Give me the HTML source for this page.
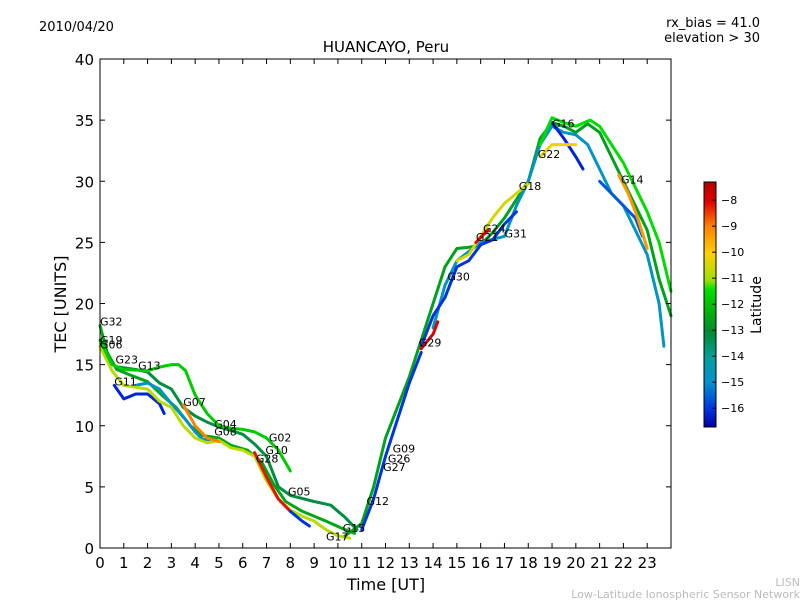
<!DOCTYPE html>
<html><head><meta charset="utf-8"><style>
body{margin:0;background:#fff;}
svg text{font-family:"DejaVu Sans","Liberation Sans",sans-serif;}
</style></head><body>
<svg id="chart" width="800" height="600" xmlns="http://www.w3.org/2000/svg">
<defs>
<linearGradient id="jet" x1="0" y1="1" x2="0" y2="0">
<stop offset="0" stop-color="#0000a0"/><stop offset="0.07" stop-color="#0030e0"/><stop offset="0.18" stop-color="#0090d0"/><stop offset="0.28" stop-color="#00a0a0"/><stop offset="0.39" stop-color="#008a30"/><stop offset="0.5" stop-color="#00c000"/><stop offset="0.56" stop-color="#00e000"/><stop offset="0.6" stop-color="#a0e000"/><stop offset="0.71" stop-color="#ffd000"/><stop offset="0.82" stop-color="#ff8000"/><stop offset="0.92" stop-color="#e00000"/><stop offset="1" stop-color="#b00000"/>
</linearGradient>
</defs>
<text x="39" y="31" font-size="13">2010/04/20</text>
<text x="760" y="27" font-size="13" text-anchor="end">rx_bias = 41.0</text>
<text x="760" y="42" font-size="13" text-anchor="end">elevation &gt; 30</text>
<text x="386" y="52" font-size="15" text-anchor="middle">HUANCAYO, Peru</text>
<g id="marks"></g>
<rect x="100" y="59" width="571" height="489" fill="none" stroke="#000" stroke-width="1"/>
<g id="axes"></g>
<text transform="translate(66,304) rotate(-90)" font-size="16" text-anchor="middle">TEC [UNITS]</text>
<text x="386" y="590" font-size="16" text-anchor="middle">Time [UT]</text>
<rect x="704" y="182" width="12" height="245" fill="url(#jet)" stroke="#000" stroke-width="1"/>
<g id="cbticks"></g>
<text transform="translate(761,305) rotate(-90)" font-size="14" text-anchor="middle">Latitude</text>
<text x="800" y="586" font-size="11" fill="#bbb" text-anchor="end">LISN</text>
<text x="800" y="598" font-size="11" fill="#bbb" text-anchor="end">Low-Latitude Ionospheric Sensor Network</text>
</svg>
<script>
const xTicks = [0,1,2,3,4,5,6,7,8,9,10,11,12,13,14,15,16,17,18,19,20,21,22,23];
const yTicks = [0,5,10,15,20,25,30,35,40];
const cbTicks = [-8,-9,-10,-11,-12,-13,-14,-15,-16];
const trackLats = [-12.5,-13.2,-16.2,-14.8,-10.8,-9.0,-8.2,-16.0,-11.8,-12.6,-14.8,-16.0,-16.2,-15.6,-9.3,-10.2,-10.5,-8.0,-8.1,-16.0,-11.5];
const trackPts = [
 [[0,18.2],[0.3,16],[0.7,14.6],[1.2,14.2],[2,13.6],[2.6,12.5],[3.2,11.5],[3.8,10],[4.3,9.2],[5,9.0],[5.5,8.4],[6.2,8.0],[6.8,7.0],[7.3,5.2],[7.8,3.8],[8.5,3.0],[9.5,2.2],[10.3,1.5],[10.7,1.2]],
 [[0.8,14.8],[1.5,14.6],[2,14.4],[2.5,13.5],[3,13],[3.5,11.5],[4,10.8],[4.5,10.3],[5,9.9],[5.5,9.6],[6,9.3],[6.5,8.5],[7,7.5],[7.5,5],[8,4.3],[9,3.8],[9.7,3.5],[10,3.0],[10.3,2.5],[10.8,1.5]],
 [[0.6,13.3],[1,12.2],[1.5,12.6],[2,12.6],[2.5,11.8],[2.7,11.0]],
 [[1.5,13.3],[2,13.5],[2.5,13.0],[3,11.8],[3.6,10.5],[4.0,9.5],[4.3,8.9],[5,8.8]],
 [[0,16.5],[0.5,14.5],[1,13.3],[2,13],[2.5,12],[3,11.5],[3.5,10],[4,9],[4.5,8.6],[5,8.8],[5.5,8.2],[6,8.0],[6.5,7.5],[7,5.5],[7.5,4],[8,3.1],[8.5,2.6],[9,2.2],[9.5,1.5],[10,1],[10.5,0.8]],
 [[3.5,11.7],[4,10],[4.5,9],[5,8.7]],
 [[6.5,7.8],[7,5.8],[7.5,4.0],[8,3.0]],
 [[8,3.0],[8.5,2.2],[8.8,1.8]],
 [[0,17],[0.5,15],[1,14.6],[2,14.5],[2.5,14.8],[3,15],[3.3,15],[3.6,14.5],[4,12.5],[4.5,11],[5,10],[5.5,9.8],[6,9.7],[6.5,9.5],[7,9.0],[7.5,8],[8,6.3]],
 [[10.3,1],[11,2],[11.5,5],[12,9],[12.5,11.5],[13,14],[13.5,17],[14,20],[14.5,23],[15,24.5],[15.5,24.6],[16,24.8],[16.5,25.8],[17,27],[17.5,28.5],[18,30],[18.5,33.5],[19,34.8],[19.5,34.5],[20,34],[20.5,34.7],[21,34],[21.5,32],[22,30],[22.5,28],[23,26],[23.5,22],[24,19]],
 [[14,18],[14.5,21.5],[15,23.5],[16,25],[17,25.5],[17.5,28],[18,30],[18.5,33],[19,34.5],[19.5,34],[20,33.8],[20.5,33],[21,31],[21.5,29],[22,28],[22.5,26],[23,24],[23.5,20],[23.7,16.5]],
 [[13.5,16.5],[14,19],[14.5,20.5],[15,23],[15.5,23.5],[16,24.8],[16.5,25.2],[17,26.5],[17.5,27.5]],
 [[19,34.8],[19.5,33.5],[20,32],[20.3,31]],
 [[21,30],[21.5,29],[22,28],[22.5,27],[22.8,25.5]],
 [[21.8,30.5],[22.2,29],[22.6,27],[23,24.5]],
 [[18.5,32],[19,33],[19.5,33],[20,33]],
 [[15,23.5],[15.5,24],[16,25.5],[16.5,27],[17,28.2],[17.5,29],[18,29.8]],
 [[13.5,16.3],[14,17.5],[14.2,18.5]],
 [[15.8,25],[16.3,26]],
 [[11,1.5],[11.5,4],[12,7.5],[12.5,10.5],[13,13.5],[13.5,16]],
 [[18.5,33],[19,35.2],[19.5,34.8],[20,34.5],[20.6,35],[21,34.5],[21.5,33],[22,31.5],[22.5,29.5],[23,27.5],[23.5,25],[24,21]]
];
const labelNames = ["G32","G19","G06","G23","G13","G11","G07","G04","G08","G02","G10","G28","G05","G12","G15","G17","G09","G26","G27","G29","G30","G21","G24","G31","G18","G22","G16","G14"];
const labelX = [0,0,0,0.65,1.6,0.6,3.5,4.8,4.8,7.1,6.95,6.55,7.9,11.2,10.2,9.5,12.3,12.1,11.9,13.4,14.6,15.8,16.1,17,17.6,18.4,19,21.9];
const labelY = [18.2,16.7,16.3,15.1,14.6,13.3,11.6,9.8,9.2,8.7,7.7,7.0,4.3,3.5,1.3,0.6,7.8,7.0,6.3,16.5,21.9,25.1,25.8,25.4,29.3,31.9,34.4,29.8];

const NS="http://www.w3.org/2000/svg";
const x0=100,x1=671,y0=548,y1=59;
function px(h){return x0+h*(x1-x0)/24;}
function py(v){return y0-v*(y0-y1)/40;}
function cy(lat){return 182+(-7.3-lat)*26;}
const cmapT=[0,0.07,0.18,0.28,0.39,0.5,0.56,0.6,0.71,0.82,0.92,1];
const cmapC=[[0,0,160],[0,48,224],[0,144,208],[0,160,160],[0,138,48],[0,192,0],[0,224,0],[160,224,0],[255,208,0],[255,128,0],[224,0,0],[176,0,0]];
function jet(lat){
  let t=(lat+16.7)/9.4; t=Math.max(0,Math.min(1,t));
  let i=0; while(i<cmapT.length-2 && t>cmapT[i+1]) i++;
  const f=(t-cmapT[i])/(cmapT[i+1]-cmapT[i]);
  const c=[0,1,2].map(k=>Math.round(cmapC[i][k]+(cmapC[i+1][k]-cmapC[i][k])*f));
  return `rgb(${c[0]},${c[1]},${c[2]})`;
}
const marks=document.getElementById('marks');
trackPts.forEach((pts,i)=>{
  const p=document.createElementNS(NS,'polyline');
  p.setAttribute('points',pts.map(q=>px(q[0]).toFixed(1)+','+py(q[1]).toFixed(1)).join(' '));
  p.setAttribute('fill','none');p.setAttribute('stroke',jet(trackLats[i]));
  p.setAttribute('stroke-width','3');p.setAttribute('stroke-linejoin','round');p.setAttribute('stroke-linecap','round');
  
  
  marks.appendChild(p);
});
labelNames.forEach((n,i)=>{
  const t=document.createElementNS(NS,'text');
  t.setAttribute('x',px(labelX[i]));t.setAttribute('y',py(labelY[i]));
  t.setAttribute('font-size','11');t.textContent=n;
  
  
  marks.appendChild(t);
});
const axes=document.getElementById('axes');
function line(g,a,b,c,d){const l=document.createElementNS(NS,'line');l.setAttribute('x1',a);l.setAttribute('y1',b);l.setAttribute('x2',c);l.setAttribute('y2',d);l.setAttribute('stroke','#000');g.appendChild(l);return l;}
function txt(g,x,y,s,fs,anchor){const t=document.createElementNS(NS,'text');t.setAttribute('x',x);t.setAttribute('y',y);t.setAttribute('font-size',fs);t.setAttribute('text-anchor',anchor);t.textContent=s;g.appendChild(t);return t;}
xTicks.forEach(h=>{
  const l=line(axes,px(h),y0,px(h),y0-5);
  
  
  const l2=line(axes,px(h),y1,px(h),y1+5);
  
  
  const t=txt(axes,px(h),y0+20,String(h),15,'middle');
  
  
});
yTicks.forEach(v=>{
  const l=line(axes,x0,py(v),x0+5,py(v));
  
  
  const l2=line(axes,x1,py(v),x1-5,py(v));
  
  
  const t=txt(axes,x0-6,py(v)+6,String(v),15,'end');
  
  
});
const cb=document.getElementById('cbticks');
cbTicks.forEach(v=>{
  const l=line(cb,716,cy(v),712,cy(v));
  
  
  const t=txt(cb,721,cy(v)+4,'\u2212'+Math.abs(v),11,'start');
  
  
});
</script>
</body></html>
